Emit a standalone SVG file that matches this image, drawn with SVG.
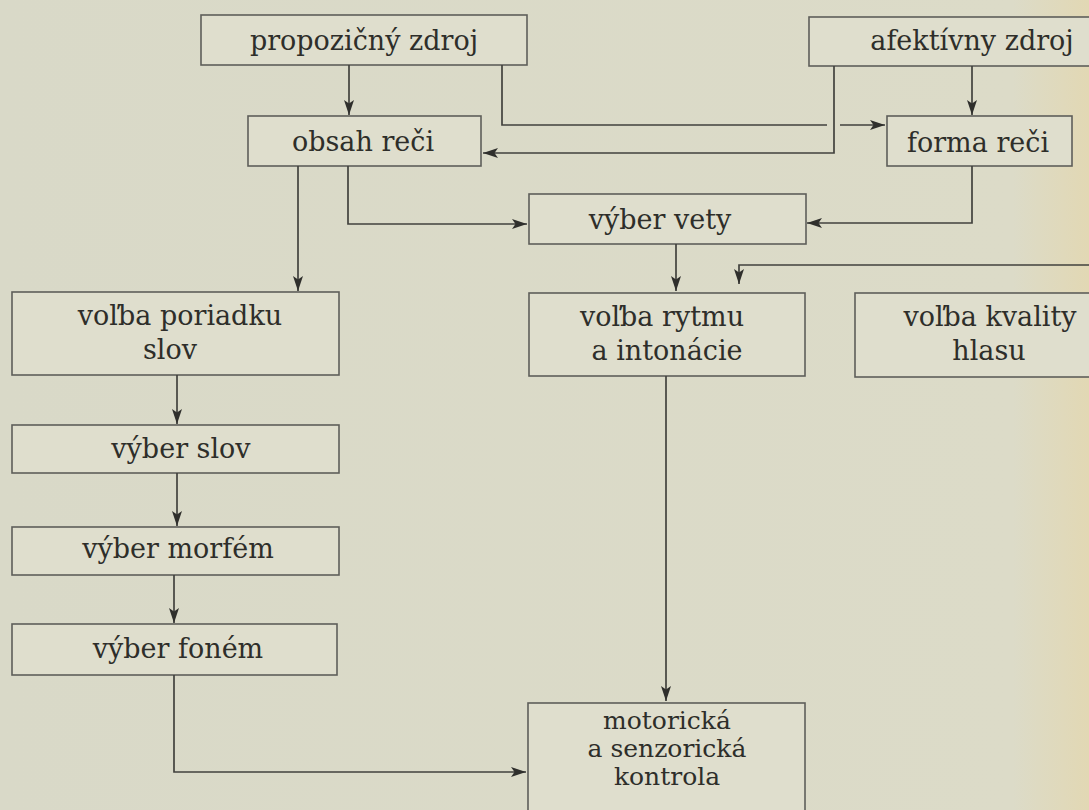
<svg xmlns="http://www.w3.org/2000/svg" width="1089" height="810" viewBox="0 0 1089 810">
<defs>
<linearGradient id="bg" x1="0" y1="0" x2="1" y2="0">
<stop offset="0" stop-color="#d9d9c8"/>
<stop offset="0.93" stop-color="#dcdbc8"/>
<stop offset="1" stop-color="#e2d8b4"/>
</linearGradient>
<marker id="ah" markerUnits="userSpaceOnUse" markerWidth="16" markerHeight="12" viewBox="0 0 16 12" refX="15" refY="6" orient="auto">
<path d="M0,1 L15,6 L0,11 L3.5,6 z" fill="#2f2f2c"/>
</marker>
</defs>
<style>
.box{fill:#dfdecd;stroke:#5e5e5a;stroke-width:1.6}
.t{font-family:"DejaVu Serif","Liberation Serif",serif;font-size:27px;fill:#2e2e2a;text-anchor:middle}
.m{font-size:25px}
.c{fill:none;stroke:#42423e;stroke-width:1.7;marker-end:url(#ah)}
</style>
<rect x="0" y="0" width="1089" height="810" fill="url(#bg)"/>

<g id="propozicny-zdroj">
<rect class="box" x="201" y="15" width="326" height="50"/>
<text class="t" x="364" y="50">propozičný zdroj</text>
</g>
<g id="afektivny-zdroj">
<rect class="box" x="809" y="17" width="340" height="49"/>
<text class="t" x="972" y="50">afektívny zdroj</text>
</g>
<g id="obsah-reci">
<rect class="box" x="248" y="116" width="233" height="50"/>
<text class="t" x="363" y="151">obsah reči</text>
</g>
<g id="forma-reci">
<rect class="box" x="887" y="116" width="185" height="50"/>
<text class="t" x="978" y="152">forma reči</text>
</g>
<g id="vyber-vety">
<rect class="box" x="529" y="194" width="277" height="50"/>
<text class="t" x="660" y="229">výber vety</text>
</g>
<g id="volba-poriadku-slov">
<rect class="box" x="12" y="292" width="327" height="83"/>
<text class="t" x="180" y="325">voľba poriadku</text>
<text class="t" x="170" y="359">slov</text>
</g>
<g id="volba-rytmu">
<rect class="box" x="529" y="293" width="276" height="83"/>
<text class="t" x="662" y="326">voľba rytmu</text>
<text class="t" x="667" y="360">a intonácie</text>
</g>
<g id="volba-kvality">
<rect class="box" x="855" y="293" width="290" height="84"/>
<text class="t" x="990" y="326">voľba kvality</text>
<text class="t" x="989" y="360">hlasu</text>
</g>
<g id="vyber-slov">
<rect class="box" x="12" y="425" width="327" height="48"/>
<text class="t" x="181" y="458">výber slov</text>
</g>
<g id="vyber-morfem">
<rect class="box" x="12" y="527" width="327" height="48"/>
<text class="t" x="178" y="558">výber morfém</text>
</g>
<g id="vyber-fonem">
<rect class="box" x="12" y="624" width="325" height="51"/>
<text class="t" x="178" y="658">výber foném</text>
</g>
<g id="motoricka-kontrola">
<rect class="box" x="528" y="703" width="277" height="130"/>
<text class="t m" x="667" y="729">motorická</text>
<text class="t m" x="667" y="757">a senzorická</text>
<text class="t m" x="667" y="785">kontrola</text>
</g>

<g id="connectors">
<path class="c" d="M349,65 V115"/>
<path class="c" d="M502,65 V125 H827 M840,125 H885"/>
<path class="c" d="M834,66 V153 H483"/>
<path class="c" d="M972,66 V115"/>
<path class="c" d="M348,166 V224 H527"/>
<path class="c" d="M298,166 V291"/>
<path class="c" d="M972,166 V223 H807"/>
<path class="c" d="M676,244 V291"/>
<path class="c" d="M1089,265 H739 V284"/>
<path class="c" d="M666,376 V701"/>
<path class="c" d="M177,375 V424"/>
<path class="c" d="M177,473 V526"/>
<path class="c" d="M174,575 V623"/>
<path class="c" d="M174,675 V772 H526"/>
</g>
</svg>
